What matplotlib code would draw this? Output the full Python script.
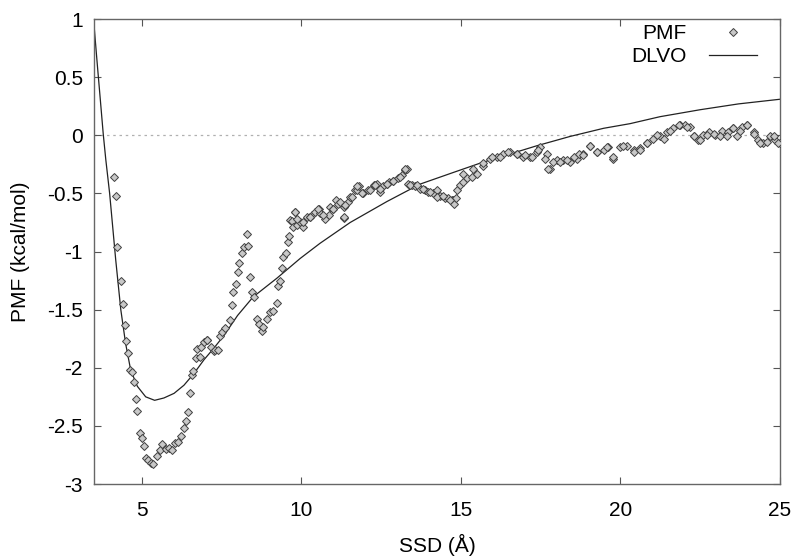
import matplotlib
matplotlib.use('Agg')
from matplotlib import pyplot as plt

# PMF samples
pmf_x = [4.13, 4.18, 4.23, 4.34, 4.41, 4.46, 4.51, 4.58, 4.62, 4.68, 4.75, 4.81,
         4.86, 4.94, 5.01, 5.07, 5.12, 5.19, 5.28, 5.36, 5.47, 5.56, 5.64, 5.75,
         5.85, 5.94, 6.04, 6.13, 6.24, 6.32, 6.39, 6.46, 6.51, 6.56, 6.61, 6.69,
         6.74, 6.82, 6.84, 6.95, 7.03, 7.05, 7.16, 7.26, 7.29, 7.39, 7.45, 7.52,
         7.61, 7.76, 7.82, 7.87, 7.94, 8.00, 8.06, 8.15, 8.21, 8.29, 8.34, 8.39,
         8.46, 8.52, 8.60, 8.68, 8.76, 8.81, 8.91, 9.02, 9.10, 9.23, 9.28, 9.33,
         9.38, 9.43, 9.51, 9.57, 9.62, 9.64, 9.70, 9.75, 9.80, 9.85, 9.96, 10.06,
         10.17, 10.27, 10.32, 10.43, 10.56, 10.58, 10.74, 10.85, 10.90, 11.00, 11.10, 11.16,
         11.32, 11.32, 11.37, 11.47, 11.52, 11.68, 11.73, 11.79, 11.94, 12.10, 12.26, 12.36,
         12.47, 12.57, 12.67, 12.73, 12.88, 13.04, 13.15, 13.25, 13.30, 13.35, 13.46, 13.56,
         13.72, 13.88, 13.98, 14.14, 14.24, 14.35, 14.50, 14.61, 14.71, 14.76, 14.79, 14.85,
         14.87, 14.97, 15.08, 15.18, 15.34, 15.50, 15.70, 15.91, 16.12, 16.33, 16.54, 16.75,
         16.96, 17.17, 17.38, 17.48, 17.69, 17.79, 18.00, 18.21, 18.42, 18.63, 18.84, 19.05,
         19.26, 19.47, 19.62, 19.78, 19.99, 20.20, 20.41, 20.62, 20.83, 21.03, 21.24, 21.45,
         21.66, 21.87, 22.03, 22.18, 22.29, 22.44, 22.60, 22.76, 22.97, 23.18, 23.38, 23.54,
         23.65, 23.80, 23.96, 24.17, 24.32, 24.48, 24.69, 24.85, 25.00,
         9.80, 9.85, 10.06, 10.27, 10.53, 10.69, 11.00, 11.21, 11.32, 11.37, 11.58, 11.73,
         11.89, 12.15, 12.31, 12.47, 12.68, 12.88, 13.09, 13.25, 13.41, 13.62, 13.82, 14.03,
         14.24, 14.45, 14.66, 15.08, 15.39, 15.70, 15.97, 16.23, 16.49, 16.75, 17.01, 17.22,
         17.43, 17.64, 17.74, 17.90, 18.11, 18.32, 18.53, 18.69, 18.84, 19.05, 19.26, 19.57,
         19.78, 20.09, 20.41, 20.62, 20.83, 21.14, 21.35, 21.56, 21.82, 22.08, 22.29, 22.50,
         22.71, 22.92, 23.13, 23.34, 23.54, 23.75, 23.96, 24.17, 24.38, 24.59, 24.80, 24.95]
pmf_y = [-0.36, -0.52, -0.96, -1.25, -1.45, -1.63, -1.77, -1.87, -2.02, -2.04, -2.12, -2.27,
         -2.37, -2.56, -2.60, -2.67, -2.78, -2.79, -2.82, -2.83, -2.76, -2.71, -2.66, -2.70,
         -2.69, -2.71, -2.65, -2.64, -2.59, -2.52, -2.46, -2.38, -2.22, -2.06, -2.03, -1.92,
         -1.84, -1.91, -1.82, -1.78, -1.76, -1.76, -1.82, -1.86, -1.85, -1.85, -1.73, -1.69,
         -1.66, -1.59, -1.46, -1.35, -1.28, -1.18, -1.10, -1.01, -0.96, -0.85, -0.95, -1.22,
         -1.35, -1.39, -1.58, -1.62, -1.68, -1.65, -1.58, -1.52, -1.51, -1.44, -1.30, -1.25,
         -1.14, -1.05, -1.01, -0.92, -0.87, -0.73, -0.74, -0.79, -0.66, -0.77, -0.75, -0.79,
         -0.70, -0.70, -0.69, -0.66, -0.63, -0.67, -0.72, -0.69, -0.62, -0.63, -0.56, -0.59,
         -0.71, -0.62, -0.60, -0.57, -0.53, -0.47, -0.47, -0.44, -0.50, -0.47, -0.43, -0.42,
         -0.49, -0.44, -0.42, -0.40, -0.39, -0.37, -0.34, -0.30, -0.29, -0.42, -0.43, -0.44,
         -0.46, -0.47, -0.49, -0.50, -0.47, -0.52, -0.54, -0.54, -0.56, -0.56, -0.59, -0.54,
         -0.47, -0.43, -0.40, -0.37, -0.36, -0.33, -0.26, -0.20, -0.19, -0.16, -0.14, -0.16,
         -0.19, -0.19, -0.14, -0.10, -0.16, -0.29, -0.21, -0.21, -0.23, -0.20, -0.16, -0.09,
         -0.14, -0.13, -0.10, -0.20, -0.10, -0.09, -0.13, -0.11, -0.07, -0.03, -0.01, 0.03,
         0.06, 0.09, 0.09, 0.07, -0.01, -0.04, 0.00, 0.03, 0.00, 0.04, 0.03, 0.06,
         -0.01, 0.07, 0.09, 0.03, -0.04, -0.07, -0.01, -0.04, -0.07,
         -0.66, -0.72, -0.75, -0.70, -0.63, -0.69, -0.63, -0.57, -0.70, -0.60, -0.53, -0.44,
         -0.50, -0.47, -0.43, -0.46, -0.42, -0.39, -0.36, -0.29, -0.43, -0.43, -0.46, -0.49,
         -0.53, -0.52, -0.56, -0.33, -0.29, -0.24, -0.19, -0.19, -0.14, -0.16, -0.17, -0.19,
         -0.13, -0.20, -0.29, -0.23, -0.23, -0.21, -0.19, -0.16, -0.17, -0.09, -0.14, -0.10,
         -0.19, -0.09, -0.14, -0.13, -0.07, 0.00, -0.03, 0.04, 0.09, 0.07, -0.01, -0.04,
         0.00, 0.01, -0.01, -0.01, 0.06, 0.04, 0.09, 0.01, -0.07, -0.06, -0.01, -0.07]

# DLVO curve
dlvo_x = [3.5, 3.6, 3.7, 3.79, 3.87, 3.99, 4.18, 4.34, 4.49, 4.65, 4.86, 5.12,
          5.4, 5.69, 6.01, 6.32, 6.63, 6.95, 7.26, 7.58, 8.0, 8.49, 9.23, 9.96,
          10.58, 11.53, 12.68, 13.72, 14.76, 15.6, 17.38, 18.42, 19.47, 20.3, 21.24, 22.5,
          23.7, 25.0]
dlvo_y = [0.95, 0.62, 0.30, 0.01, -0.21, -0.50, -1.07, -1.50, -1.79, -2.02, -2.16, -2.25,
          -2.28, -2.26, -2.22, -2.15, -2.05, -1.93, -1.83, -1.72, -1.55, -1.39, -1.23, -1.06,
          -0.93, -0.75, -0.57, -0.42, -0.32, -0.24, -0.09, -0.01, 0.06, 0.10, 0.16, 0.22,
          0.27, 0.31]

plt.rcParams['font.family'] = ['Liberation Sans', 'DejaVu Sans']

fig = plt.figure(figsize=(8, 5.6), dpi=100)
ax = fig.add_axes([0.1175, 0.1357, 0.8575, 0.8303])

ax.axhline(0, color='#b0b0b0', linestyle=(0, (2, 3)), linewidth=0.9, zorder=1)
ax.plot(pmf_x, pmf_y, linestyle='none', marker='D', markersize=4.4,
        markerfacecolor='#c8c8c8', markeredgecolor='#404040', markeredgewidth=0.7,
        label='PMF', zorder=3)
ax.plot(dlvo_x, dlvo_y, color='#222222', linewidth=0.9, label='DLVO', zorder=2)

ax.set_xlim(3.5, 25)
ax.set_ylim(-3, 1)
ax.set_xticks([5, 10, 15, 20, 25])
ax.set_yticks([-3, -2.5, -2, -1.5, -1, -0.5, 0, 0.5, 1])
ax.set_yticklabels(['-3', '-2.5', '-2', '-1.5', '-1', '-0.5', '0', '0.5', '1'])
ax.tick_params(direction='in', length=5, width=0.8, colors='#555555',
               labelcolor='black', labelsize=15, top=True, right=True)
ax.tick_params(axis='x', pad=12)
ax.tick_params(axis='y', pad=8)
for s in ax.spines.values():
    s.set_color('#666666')
    s.set_linewidth(1.0)

ax.set_xlabel('SSD (Å)', fontsize=15, labelpad=10)
ax.set_ylabel('PMF (kcal/mol)', fontsize=15, labelpad=12)

ax.legend(loc='upper right', bbox_to_anchor=(0.9665, 0.989), frameon=False,
          markerfirst=False, fontsize=15, handlelength=2.3, handletextpad=1.1,
          labelspacing=0.2, borderpad=0, borderaxespad=0)

fig.savefig('out.png', dpi=100)
